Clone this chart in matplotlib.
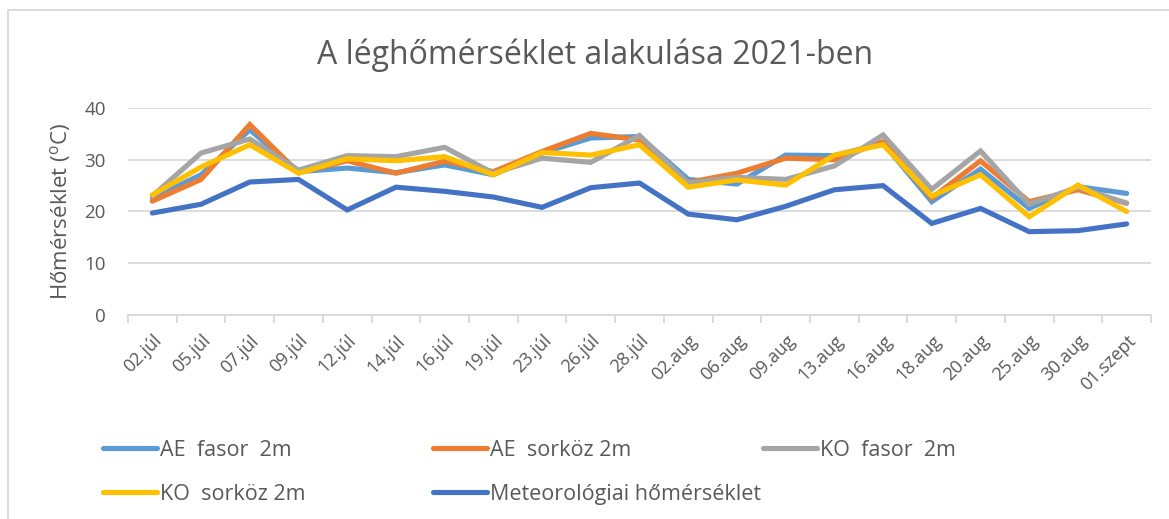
import matplotlib
matplotlib.use("Agg")
import matplotlib.pyplot as plt
from matplotlib.patches import Rectangle
from matplotlib.transforms import ScaledTranslation
from matplotlib import font_manager

categories = ["02.júl", "05.júl", "07.júl", "09.júl", "12.júl", "14.júl", "16.júl",
              "19.júl", "23.júl", "26.júl", "28.júl", "02.aug", "06.aug", "09.aug",
              "13.aug", "16.aug", "18.aug", "20.aug", "25.aug", "30.aug", "01.szept"]

ae_fasor = [22.6, 27.1, 35.8, 27.7, 28.4, 27.5, 29.0, 27.1, 31.3, 34.2, 34.5,
            26.2, 25.3, 30.9, 30.8, 33.2, 21.9, 28.2, 20.6, 24.8, 23.5]
ae_sorkoz = [22.0, 26.2, 36.8, 27.5, 29.8, 27.4, 29.7, 27.7, 31.6, 35.1, 33.8,
             25.6, 27.4, 30.3, 30.0, 33.5, 22.6, 29.8, 21.9, 24.2, 21.6]
ko_fasor = [23.0, 31.3, 34.0, 28.0, 30.8, 30.6, 32.4, 27.4, 30.3, 29.5, 34.7,
            25.5, 26.6, 26.2, 28.8, 34.8, 24.3, 31.7, 21.4, 24.7, 21.6]
ko_sorkoz = [23.2, 28.6, 32.9, 27.4, 30.2, 29.8, 30.6, 27.1, 31.4, 30.9, 32.9,
             24.7, 26.1, 25.1, 30.9, 32.9, 23.0, 27.1, 19.0, 25.1, 20.0]
meteo = [19.7, 21.4, 25.7, 26.2, 20.3, 24.7, 23.9, 22.8, 20.8, 24.6, 25.5,
         19.5, 18.4, 21.0, 24.2, 25.0, 17.7, 20.6, 16.1, 16.3, 17.6]

series_names = ["AE  fasor  2m", "AE  sorköz 2m", "KO  fasor  2m",
                "KO  sorköz 2m", "Meteorológiai hőmérséklet"]
series_values = [ae_fasor, ae_sorkoz, ko_fasor, ko_sorkoz, meteo]
colors = ["#5B9BD5", "#ED7D31", "#A5A5A5", "#FFC000", "#4472C4"]
yticks = [0, 10, 20, 30, 40]

names = {f.name for f in font_manager.fontManager.ttflist}
base_font = "Open Sans" if "Open Sans" in names else "DejaVu Sans"
plt.rcParams['font.family'] = [base_font, 'DejaVu Sans']

txt = "#595959"
grid = "#D9D9D9"

fig = plt.figure(figsize=(11.69, 5.19), dpi=100)
fig.patches.append(Rectangle((8/1169, -0.1), 1.2, (519-10)/519 + 0.1,
                             transform=fig.transFigure, fill=False,
                             edgecolor=grid, linewidth=1.3))

ax = fig.add_axes([128/1169, (519-315)/519, (1151-128)/1169, (315-108)/519])
x = list(range(len(categories)))
handles = []
for name, vals, c in zip(series_names, series_values, colors):
    h, = ax.plot(x, vals, color=c, linewidth=3.7, label=name,
                 solid_capstyle='round', solid_joinstyle='miter')
    handles.append(h)

ax.set_xlim(-0.5, len(categories) - 0.5)
ax.set_ylim(0, 40)
ax.set_yticks(yticks)
ax.set_yticklabels([str(t) for t in yticks], fontsize=13.5, color=txt)
ax.yaxis.grid(True, color=grid, linewidth=1.3)
ax.set_axisbelow(True)
ax.tick_params(axis='y', length=0, pad=16)

ax.set_xticks(x)
ax.set_xticklabels(categories, rotation=45, ha='right', va='top',
                   rotation_mode='anchor', fontsize=13, color=txt)
shift = ScaledTranslation(6/100, -9/100, fig.dpi_scale_trans)
for lab in ax.get_xticklabels():
    lab.set_transform(lab.get_transform() + shift)
ax.set_xticks([i - 0.5 for i in range(len(categories) + 1)], minor=True)
ax.tick_params(axis='x', which='major', length=0, pad=12)
ax.tick_params(axis='x', which='minor', length=6, color=grid, width=1.3)

for s in ['top', 'right', 'left']:
    ax.spines[s].set_visible(False)
ax.spines['bottom'].set_color(grid)
ax.spines['bottom'].set_linewidth(1.3)

ax.set_ylabel("Hőmérséklet ($\\mathregular{^o}$C)", fontsize=16, color=txt, labelpad=8)

fig.text(595/1169, 1 - 55/519, "A léghőmérséklet alakulása 2021-ben",
         ha='center', va='center', fontsize=23, color=txt)

col_x = [103/1169, 433/1169, 763/1169]
cols = [[handles[0], handles[3]], [handles[1], handles[4]], [handles[2]]]
for cx, hs in zip(col_x, cols):
    leg = fig.legend(handles=hs, labels=[h.get_label() for h in hs],
                     loc='upper left', bbox_to_anchor=(cx, 1 - 440/519),
                     frameon=False, handlelength=2.5, handletextpad=0.15,
                     labelspacing=1.05, borderaxespad=0, borderpad=0,
                     prop={'size': 15.5})
    for t in leg.get_texts():
        t.set_color(txt)

fig.savefig("out.png", dpi=100)
